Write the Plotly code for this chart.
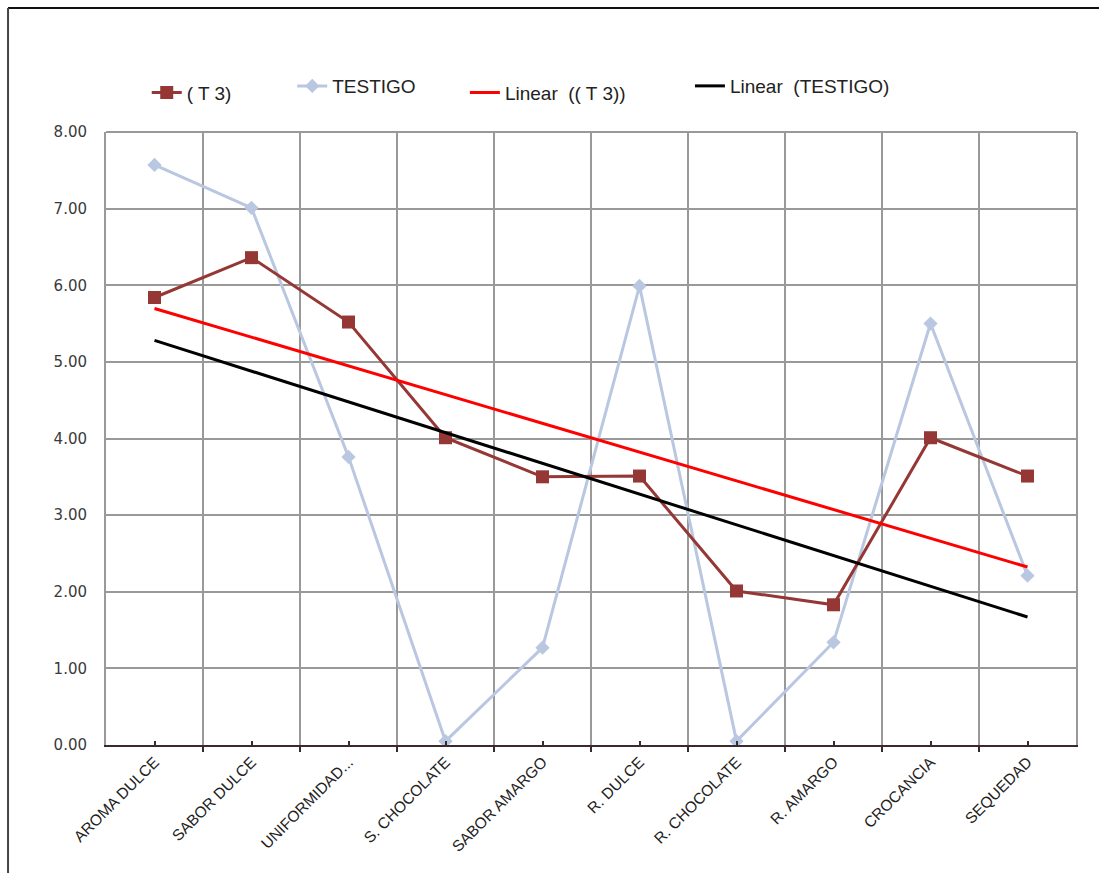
import numpy as np
import plotly.graph_objects as go

categories = ["AROMA DULCE", "SABOR DULCE", "UNIFORMIDAD...", "S. CHOCOLATE",
              "SABOR AMARGO", "R. DULCE", "R. CHOCOLATE", "R. AMARGO",
              "CROCANCIA", "SEQUEDAD"]
t3_values = [5.84, 6.36, 5.52, 4.01, 3.50, 3.51, 2.01, 1.83, 4.01, 3.51]
testigo_values = [7.57, 7.01, 3.76, 0.05, 1.27, 5.99, 0.05, 1.34, 5.50, 2.21]
y_ticks = [0, 1, 2, 3, 4, 5, 6, 7, 8]

x_pos = np.arange(1, len(categories) + 1)

# least-squares trend lines for both series
t3_fit = np.polyval(np.polyfit(x_pos, t3_values, 1), x_pos)
testigo_fit = np.polyval(np.polyfit(x_pos, testigo_values, 1), x_pos)

DARK_RED = "#953735"
LIGHT_BLUE = "#b9c7e0"
GRID = "#999999"
AXIS_DARK = "#3b2a2c"
LEG_FONT = dict(family="Liberation Sans", size=19, color="#222222")

fig = go.Figure()

fig.add_trace(go.Scatter(
    x=x_pos, y=testigo_values, name="TESTIGO", mode="lines+markers",
    line=dict(color=LIGHT_BLUE, width=3),
    marker=dict(symbol="diamond", size=11, color=LIGHT_BLUE),
    legend="legend2", showlegend=True))
fig.add_trace(go.Scatter(
    x=x_pos, y=t3_values, name="( T 3)", mode="lines+markers",
    line=dict(color=DARK_RED, width=3),
    marker=dict(symbol="square", size=13, color=DARK_RED),
    legend="legend", showlegend=True))
fig.add_trace(go.Scatter(
    x=x_pos, y=t3_fit, name="Linear  (( T 3))", mode="lines",
    line=dict(color="#ff0000", width=3), legend="legend3", showlegend=True))
fig.add_trace(go.Scatter(
    x=x_pos, y=testigo_fit, name="Linear  (TESTIGO)", mode="lines",
    line=dict(color="#000000", width=3), legend="legend4", showlegend=True))

legend_common = dict(orientation="h", yanchor="middle", xanchor="left",
                     font=LEG_FONT, bgcolor="rgba(0,0,0,0)", borderwidth=0)
fig.update_layout(
    showlegend=True,
    legend=dict(x=0.042, y=1.064, **legend_common),
    legend2=dict(x=0.192, y=1.075, **legend_common),
    legend3=dict(x=0.370, y=1.064, **legend_common),
    legend4=dict(x=0.602, y=1.075, **legend_common),
)

fig.update_xaxes(
    range=[0.5, 10.5], tickmode="array", tickvals=list(x_pos), ticktext=categories,
    tickangle=-45, tickfont=dict(family="Liberation Sans", size=15.5, color="#222222"),
    showgrid=False, zeroline=False,
    showline=True, linecolor=AXIS_DARK, linewidth=2,
    ticks="inside", ticklen=4, tickwidth=1.5, tickcolor=AXIS_DARK,
    minor=dict(tickmode="array", tickvals=[v + 0.5 for v in range(0, 11)],
               showgrid=True, gridcolor=GRID, gridwidth=2,
               ticks="outside", ticklen=5, tickwidth=1.5, tickcolor=AXIS_DARK),
)
fig.update_yaxes(
    range=[0, 8], tickmode="array", tickvals=y_ticks, tickformat=".2f",
    tickfont=dict(family="DejaVu Sans", size=15, color="#3a3a3a"),
    showgrid=True, gridcolor=GRID, gridwidth=2, zeroline=False,
    showline=True, linecolor=GRID, linewidth=2, mirror=True,
    ticks="", ticklabelstandoff=14,
)

# top border of the plot area and the outer chart frame
fig.add_shape(type="line", xref="paper", yref="paper", x0=0, x1=1, y0=1, y1=1,
              line=dict(color=GRID, width=2))
fig.add_shape(type="line", xref="paper", yref="paper", x0=-0.101, x1=1.03,
              y0=1.2023, y1=1.2023, line=dict(color="#111111", width=2))
fig.add_shape(type="line", xref="paper", yref="paper", x0=-0.101, x1=-0.101,
              y0=1.2023, y1=-0.25, line=dict(color="#444444", width=2))

fig.update_layout(
    width=1099, height=873,
    margin=dict(l=106, r=23, t=132, b=128),
    paper_bgcolor="white", plot_bgcolor="white",
)

fig.write_html("out.html")
